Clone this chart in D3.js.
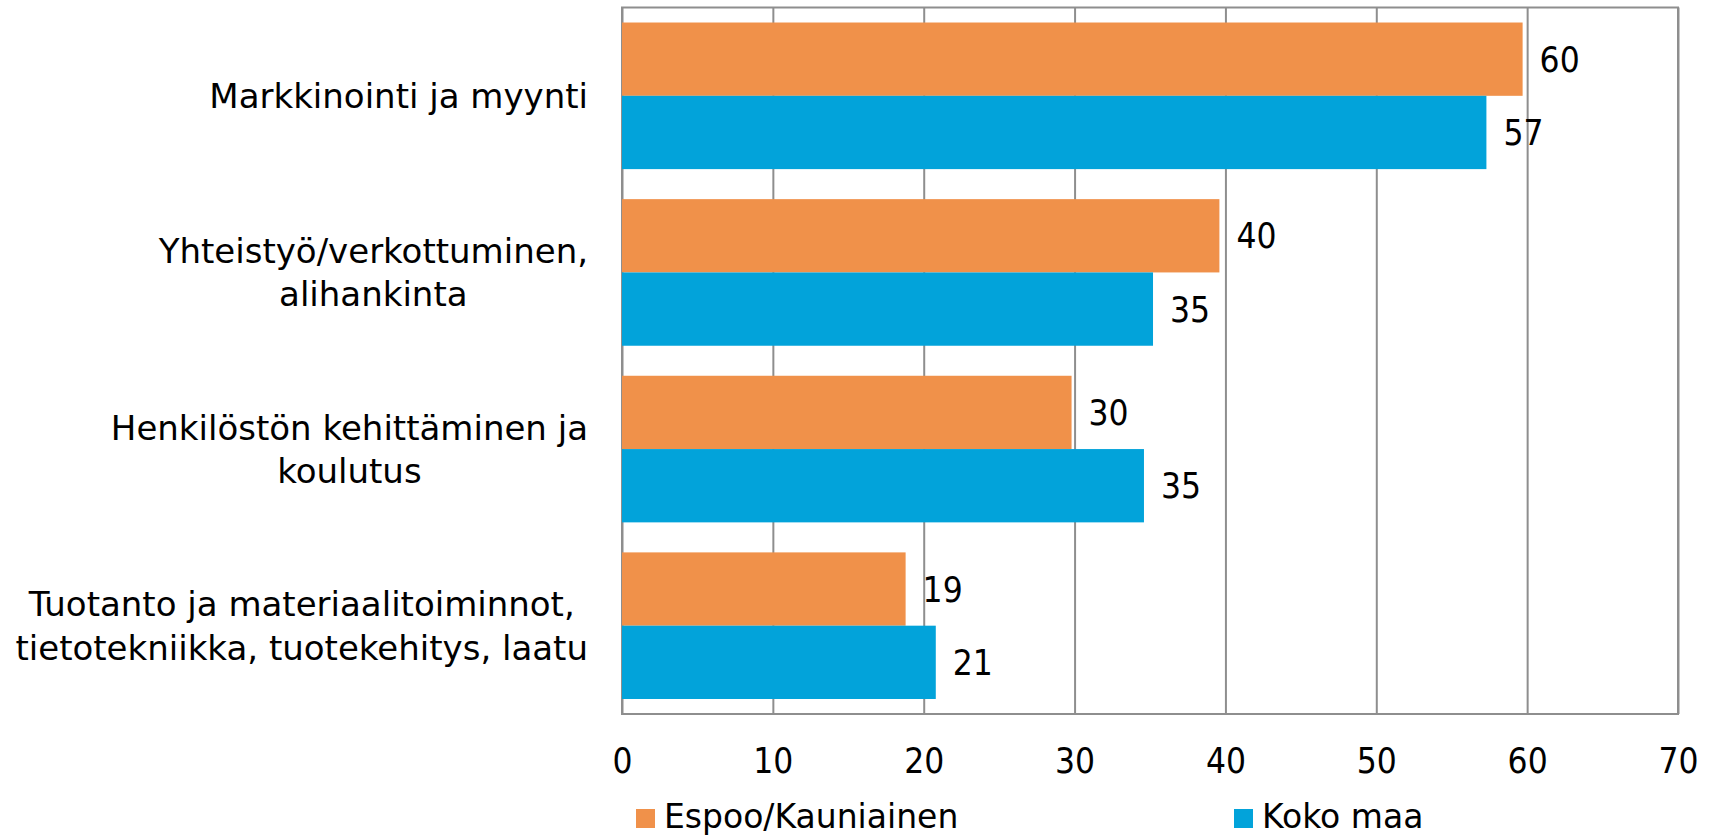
<!DOCTYPE html>
<html>
<head>
<meta charset="utf-8">
<script src="https://cdn.jsdelivr.net/npm/d3@7"></script>
<style>
  html, body { margin: 0; padding: 0; background: #ffffff; }
  svg { display: block; }
</style>
</head>
<body>
<svg id="chart" width="1715" height="836"></svg>
<script>
// ---- data ----
const categories = [
  "Markkinointi ja myynti",
  "Yhteistyö/verkottuminen,\nalihankinta",
  "Henkilöstön kehittäminen ja\nkoulutus",
  "Tuotanto ja materiaalitoiminnot,\ntietotekniikka, tuotekehitys, laatu"
];
const seriesNames = ["Espoo/Kauniainen", "Koko maa"];
const espooValues = [59.7, 39.6, 29.8, 18.8];
const kokoMaaValues = [57.3, 35.2, 34.6, 20.8];
const xTicks = [0, 10, 20, 30, 40, 50, 60, 70];
const seriesColors = ["#F0914A", "#02A3DA"];

// ---- layout ----
const svg = d3.select("#chart");
const plot = { left: 622, right: 1678, top: 7.5, bottom: 714 };
const labelRight = 588;
const textFont = "'DejaVu Sans', sans-serif";
const numFont = "'DejaVu Sans Condensed', 'DejaVu Sans', sans-serif";

const x = d3.scaleLinear().domain([0, 70]).range([plot.left, plot.right]);
const y = d3.scaleBand().domain(categories).range([plot.top, plot.bottom])
  .paddingInner(0.17).paddingOuter(0.085);
const ySeries = d3.scaleBand().domain(seriesNames).range([0, y.bandwidth()]);

const rows = categories.map((c, i) => ({
  cat: c,
  values: [
    { name: seriesNames[0], value: espooValues[i], color: seriesColors[0] },
    { name: seriesNames[1], value: kokoMaaValues[i], color: seriesColors[1] }
  ]
}));

// gridlines + tick labels via axis
const axis = d3.axisBottom(x).tickValues(xTicks)
  .tickSize(-(plot.bottom - plot.top)).tickPadding(34).tickFormat(d3.format("d"));
const gAxis = svg.append("g").attr("transform", `translate(0,${plot.bottom})`).call(axis);
gAxis.select(".domain").remove();
gAxis.selectAll(".tick line").attr("stroke", "#8e8e8e").attr("stroke-width", 2);
gAxis.selectAll(".tick text")
  .attr("font-family", numFont).attr("font-size", 35).attr("fill", "#000");

// plot border
svg.append("rect")
  .attr("x", plot.left).attr("y", plot.top)
  .attr("width", plot.right - plot.left).attr("height", plot.bottom - plot.top)
  .attr("fill", "none").attr("stroke", "#8e8e8e").attr("stroke-width", 2);

// bars
const gCat = svg.append("g").selectAll("g").data(rows).join("g")
  .attr("transform", d => `translate(0,${y(d.cat)})`);

gCat.selectAll("rect").data(d => d.values).join("rect")
  .attr("x", x(0))
  .attr("y", d => ySeries(d.name))
  .attr("width", d => x(d.value) - x(0))
  .attr("height", ySeries.bandwidth())
  .attr("fill", d => d.color);

// data labels
gCat.selectAll("text.val").data(d => d.values).join("text")
  .attr("class", "val")
  .attr("x", d => x(d.value) + 17)
  .attr("y", d => ySeries(d.name) + ySeries.bandwidth() / 2)
  .attr("dy", "0.36em")
  .attr("font-family", numFont).attr("font-size", 35).attr("fill", "#000")
  .text(d => d3.format(".0f")(d.value));

// category labels (centered multi-line block, right-aligned box)
const lineH = 43.3;
const fs = 34;
categories.forEach(c => {
  const lines = c.split("\n");
  const g = svg.append("g");
  const t = g.append("text")
    .attr("font-family", textFont).attr("font-size", fs).attr("fill", "#000")
    .attr("text-anchor", "middle");
  const cy = y(c) + y.bandwidth() / 2;
  const firstBaseline = cy - (lines.length - 1) * lineH / 2 + fs * 0.36;
  const spans = lines.map((ln, i) => t.append("tspan").attr("x", 0)
    .attr("y", firstBaseline + i * lineH).text(ln));
  let maxW = 0;
  spans.forEach(s => { maxW = Math.max(maxW, s.node().getComputedTextLength()); });
  spans.forEach(s => s.attr("x", labelRight - maxW / 2));
});

// legend
const legendItems = [
  { name: seriesNames[0], color: seriesColors[0], x: 636 },
  { name: seriesNames[1], color: seriesColors[1], x: 1234 }
];
const lg = svg.append("g").selectAll("g").data(legendItems).join("g")
  .attr("transform", d => `translate(${d.x},0)`);
lg.append("rect").attr("x", 0).attr("y", 809).attr("width", 19).attr("height", 19)
  .attr("fill", d => d.color);
lg.append("text").attr("x", 28).attr("y", 828)
  .attr("font-family", textFont).attr("font-size", 33).attr("fill", "#000")
  .text(d => d.name);
</script>
</body>
</html>
